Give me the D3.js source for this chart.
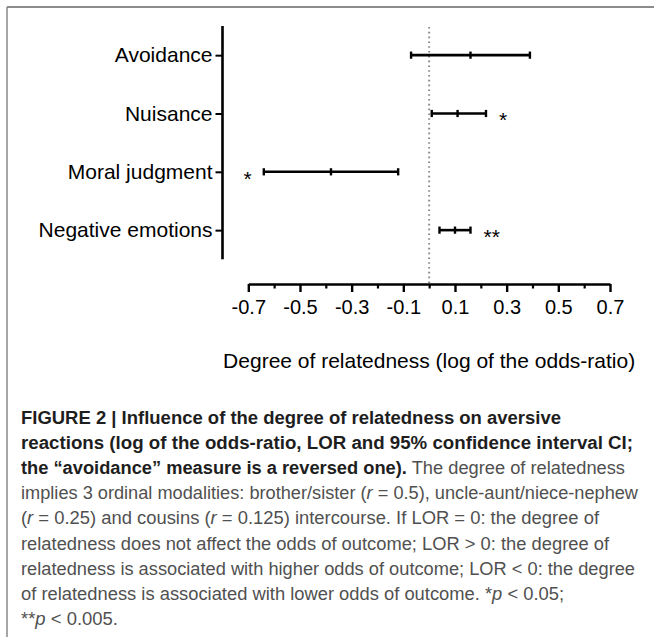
<!DOCTYPE html>
<html>
<head>
<meta charset="utf-8">
<script src="https://cdn.jsdelivr.net/npm/d3@7"></script>
<style>
  html, body { margin: 0; padding: 0; background: #fff; }
  svg { display: block; }
</style>
</head>
<body>
<svg id="chart" width="654" height="637"></svg>
<script>
// ---- data ----
const categories = ["Avoidance", "Nuisance", "Moral judgment", "Negative emotions"];
const lor = [0.16, 0.11, -0.38, 0.10];
const ciLow = [-0.07, 0.01, -0.64, 0.04];
const ciHigh = [0.39, 0.22, -0.12, 0.16];
const significance = ["", "*", "*", "**"];
const starSide = ["right", "right", "left", "right"];
const xMajorTicks = [-0.7, -0.5, -0.3, -0.1, 0.1, 0.3, 0.5, 0.7];
const xTickLabels = ["-0.7", "-0.5", "-0.3", "-0.1", "0.1", "0.3", "0.5", "0.7"];
const xMinorTicks = [-0.6, -0.4, -0.2, 0, 0.2, 0.4, 0.6];
const xDomain = [-0.7, 0.7];
const xTitle = "Degree of relatedness (log of the odds-ratio)";

// caption lines: [text, style] segments
const captionLines = [
  [["FIGURE 2 | Influence of the degree of relatedness on aversive", "b"]],
  [["reactions (log of the odds-ratio, LOR and 95% confidence interval CI;", "b"]],
  [["the \u201cavoidance\u201d measure is a reversed one).", "b"], [" The degree of relatedness", "r"]],
  [["implies 3 ordinal modalities: brother/sister (", "r"], ["r", "i"], [" = 0.5), uncle-aunt/niece-nephew", "r"]],
  [["(", "r"], ["r", "i"], [" = 0.25) and cousins (", "r"], ["r", "i"], [" = 0.125) intercourse. If LOR = 0: the degree of", "r"]],
  [["relatedness does not affect the odds of outcome; LOR > 0: the degree of", "r"]],
  [["relatedness is associated with higher odds of outcome; LOR < 0: the degree", "r"]],
  [["of relatedness is associated with lower odds of outcome. *", "r"], ["p", "i"], [" < 0.05;", "r"]],
  [["**", "r"], ["p", "i"], [" < 0.005.", "r"]]
];
const captionWidths = [540, 612, 604, 617, 578, 588, 614, 543, 97];

// ---- drawing ----
const svg = d3.select("#chart");
const FONT = "'Liberation Sans', Arial, Helvetica, sans-serif";

// frame
svg.append("line").attr("x1", 7).attr("x2", 654).attr("y1", 7).attr("y2", 7)
  .attr("stroke", "#666").attr("stroke-width", 1.5);
svg.append("line").attr("x1", 7).attr("x2", 7).attr("y1", 7).attr("y2", 637)
  .attr("stroke", "#888").attr("stroke-width", 1.5);

const x = d3.scaleLinear().domain(xDomain).range([248.3, 610]);
const y = d3.scalePoint().domain(categories).range([26, 259.3]).padding(0.5);
const axisY = 284;
const axisX = 222.5;

// zero reference line (dotted)
svg.append("line")
  .attr("x1", x(0)).attr("x2", x(0))
  .attr("y1", 27).attr("y2", axisY)
  .attr("stroke", "#8a8a8a").attr("stroke-width", 2)
  .attr("stroke-dasharray", "1.6,3.2");

// y axis
const gy = svg.append("g").attr("transform", `translate(${axisX},0)`)
  .call(d3.axisLeft(y).tickSize(7).tickSizeOuter(0).tickPadding(3));
gy.select(".domain").attr("stroke", "#000").attr("stroke-width", 2.6)
  .attr("d", `M0,${y.range()[0]}V${y.range()[1]}`);
gy.selectAll(".tick line").attr("stroke", "#000").attr("stroke-width", 2);
gy.selectAll(".tick text").attr("font-family", FONT).attr("font-size", 21).attr("fill", "#000");

// x axis major
const gx = svg.append("g").attr("transform", `translate(0,${axisY})`)
  .call(d3.axisBottom(x).tickValues(xMajorTicks).tickSize(8).tickSizeOuter(0).tickPadding(8)
    .tickFormat((d, i) => xTickLabels[i]));
gx.select(".domain").attr("stroke", "#000").attr("stroke-width", 2.6);
gx.selectAll(".tick line").attr("stroke", "#000").attr("stroke-width", 2.4);
gx.selectAll(".tick text").attr("font-family", FONT).attr("font-size", 20).attr("fill", "#000");

// x axis minor
const gxm = svg.append("g").attr("transform", `translate(0,${axisY})`)
  .call(d3.axisBottom(x).tickValues(xMinorTicks).tickSize(4.5).tickFormat(""));
gxm.select(".domain").remove();
gxm.selectAll(".tick line").attr("stroke", "#000").attr("stroke-width", 2.2);

// x title
svg.append("text")
  .attr("x", (x.range()[0] + x.range()[1]) / 2).attr("y", 368)
  .attr("text-anchor", "middle")
  .attr("font-family", FONT).attr("font-size", 21).attr("fill", "#000")
  .text(xTitle);

// error bars
const rows = categories.map((c, i) => ({ c, m: lor[i], lo: ciLow[i], hi: ciHigh[i], s: significance[i], side: starSide[i] }));
const capH = 3.6;
const g = svg.append("g");
rows.forEach(r => {
  const yy = y(r.c);
  g.append("line").attr("x1", x(r.lo)).attr("x2", x(r.hi)).attr("y1", yy).attr("y2", yy)
    .attr("stroke", "#000").attr("stroke-width", 2.6);
  [r.lo, r.m, r.hi].forEach(v => {
    g.append("line").attr("x1", x(v)).attr("x2", x(v)).attr("y1", yy - capH).attr("y2", yy + capH)
      .attr("stroke", "#000").attr("stroke-width", 2.4);
  });
  if (r.s) {
    const right = r.side === "right";
    g.append("text")
      .attr("x", right ? x(r.hi) + 13 : x(r.lo) - 12)
      .attr("y", yy + 14)
      .attr("text-anchor", right ? "start" : "end")
      .attr("font-family", FONT).attr("font-size", 21).attr("fill", "#000")
      .text(r.s);
  }
});

// caption
const capG = svg.append("g");
captionLines.forEach((segs, i) => {
  const t = capG.append("text")
    .attr("x", 21).attr("y", 424 + i * 25.1)
    .attr("font-family", FONT).attr("font-size", 17.5)
    .attr("textLength", captionWidths[i]).attr("lengthAdjust", "spacingAndGlyphs");
  segs.forEach(([txt, st]) => {
    const ts = t.append("tspan").text(txt);
    if (st === "b") ts.attr("font-weight", "bold").attr("fill", "#1e1e1e");
    else ts.attr("fill", "#505050");
    if (st === "i") ts.attr("font-style", "italic");
  });
});
</script>
</body>
</html>
